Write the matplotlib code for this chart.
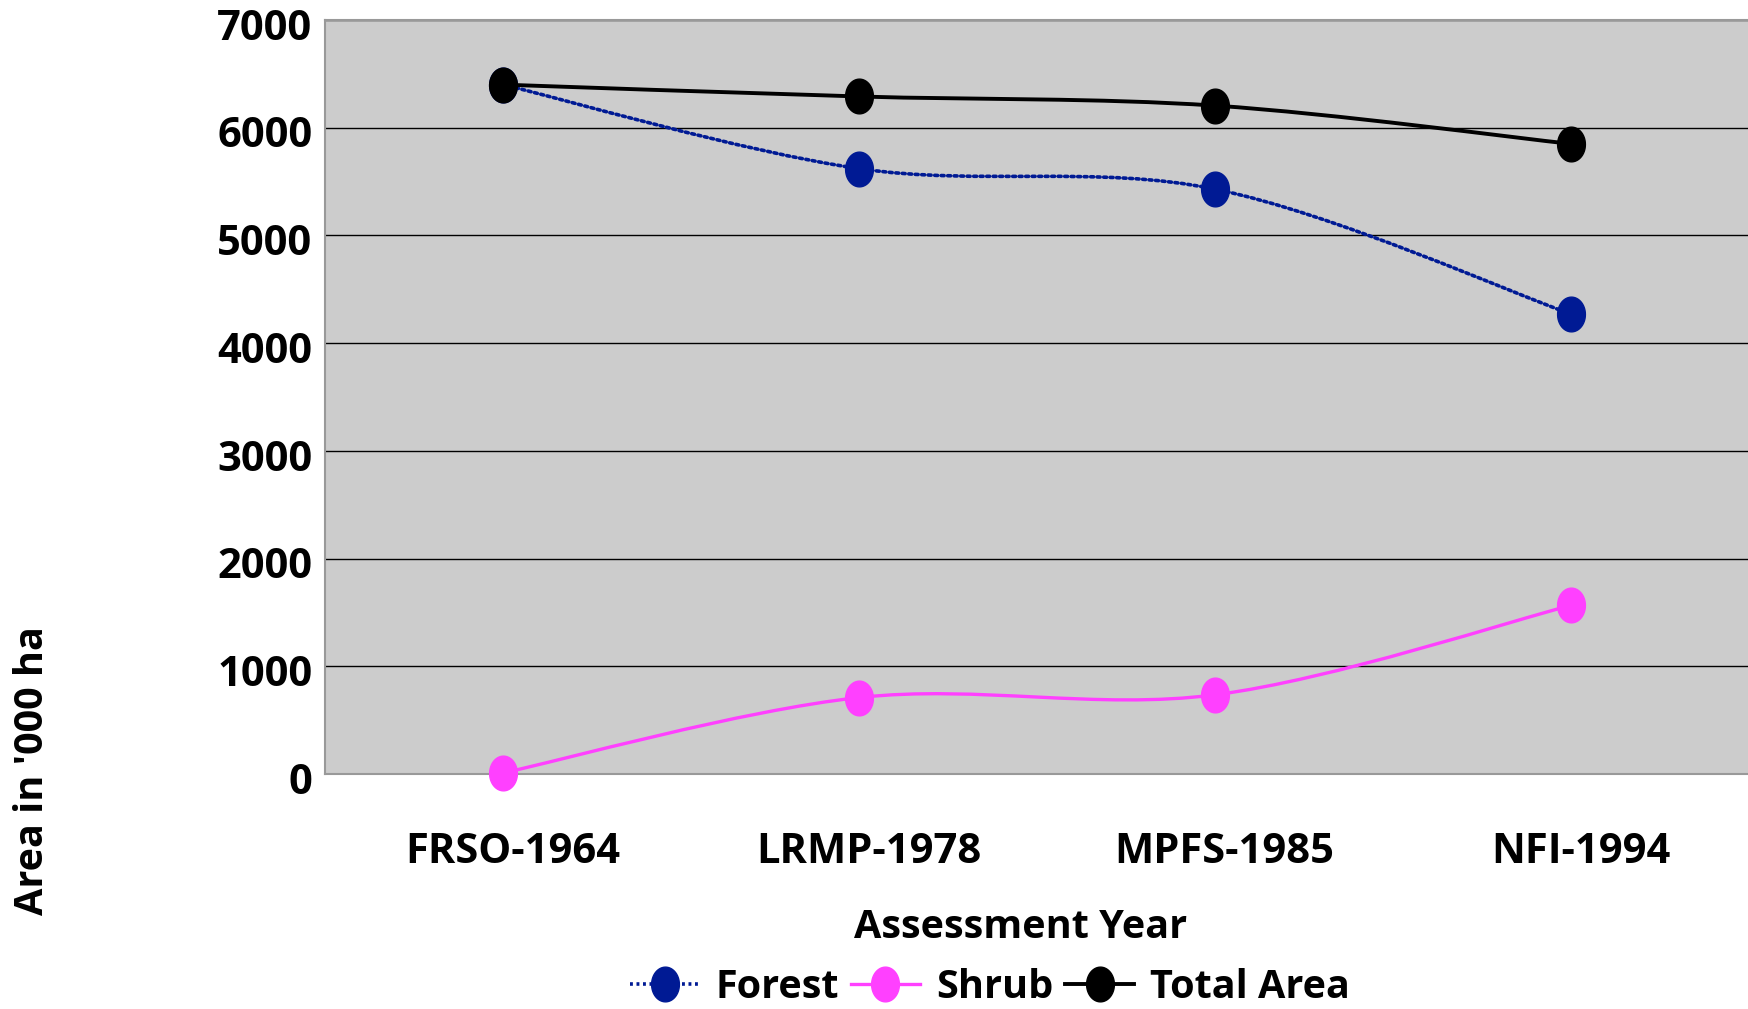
import numpy as np
import matplotlib
matplotlib.use("Agg")
import matplotlib.pyplot as plt
from matplotlib.path import Path
from matplotlib.patches import PathPatch
from matplotlib.lines import Line2D
import matplotlib.transforms as mtransforms

plt.rcParams['font.family'] = ['Open Sans', 'DejaVu Sans']
plt.rcParams['font.weight'] = 'bold'

categories = ["FRSO-1964", "LRMP-1978", "MPFS-1985", "NFI-1994"]
forest = [6400, 5620, 5430, 4270]
shrub = [10, 710, 735, 1565]
total_area = [6400, 6290, 6205, 5850]
series_names = ["Forest", "Shrub", "Total Area"]
y_ticks = [0, 1000, 2000, 3000, 4000, 5000, 6000, 7000]

FOREST_C = '#001a94'
SHRUB_C = '#ff40ff'
TOTAL_C = '#000000'
FS_TICK = 30
FS_TEXT = 28.5

fig = plt.figure(figsize=(17.49, 10.09), dpi=100)
ax = fig.add_axes([325/1749, 1 - 774/1009, 1 - 325/1749, (774 - 20)/1009])
ax.set_facecolor('#cccccc')

x = np.arange(1, len(categories) + 1)

# ellipse marker
t = np.linspace(0, 2*np.pi, 60)
ell = Path(np.column_stack([0.40*np.cos(t), 0.5*np.sin(t)]), closed=True)


def smooth_path(xs, ys):
    pts = np.column_stack([xs, ys]).astype(float)
    n = len(pts)
    verts = [pts[0]]
    codes = [Path.MOVETO]
    for i in range(n - 1):
        p0 = pts[i - 1] if i > 0 else pts[i]
        p1 = pts[i]
        p2 = pts[i + 1]
        p3 = pts[i + 2] if i + 2 < n else pts[i + 1]
        c1 = p1 + (p2 - p0) / 6.0
        c2 = p2 - (p3 - p1) / 6.0
        verts += [c1, c2, p2]
        codes += [Path.CURVE4] * 3
    return Path(verts, codes)


styles = [
    (forest, FOREST_C, (0, (0.8, 1.0)), 2.6),
    (shrub, SHRUB_C, '-', 2.4),
    (total_area, TOTAL_C, '-', 2.8),
]
handles = []
for (vals, col, ls, lw), name in zip(styles, series_names):
    patch = PathPatch(smooth_path(x, vals), fill=False, edgecolor=col,
                      linestyle=ls, linewidth=lw, transform=ax.transData,
                      zorder=3, capstyle='round')
    ax.add_patch(patch)
    ax.plot(x, vals, linestyle='none', marker=ell, markersize=25,
            color=col, markeredgecolor=col, zorder=4, clip_on=False)
    handles.append(Line2D([], [], color=col, linestyle=ls, linewidth=lw,
                          marker=ell, markersize=25, label=name))

ax.set_xlim(0.5, len(categories) + 0.5)
ax.set_ylim(0, 7000)
ax.set_yticks(y_ticks)
ax.set_yticklabels([str(v) for v in y_ticks], fontsize=FS_TICK, fontweight='bold')
ax.set_xticks(x)
ax.set_xticklabels(categories, fontsize=FS_TICK, fontweight='bold')
ax.tick_params(axis='both', length=0)
ax.tick_params(axis='y', pad=9)
ax.tick_params(axis='x', pad=42)
offset = mtransforms.ScaledTranslation(7/72, 0, fig.dpi_scale_trans)
for lab in ax.get_xticklabels():
    lab.set_transform(lab.get_transform() + offset)
yoff = mtransforms.ScaledTranslation(0, -3/72, fig.dpi_scale_trans)
for lab in ax.get_yticklabels():
    lab.set_transform(lab.get_transform() + yoff)

ax.yaxis.grid(True, color='black', linewidth=1.0)
ax.set_axisbelow(True)
for s in ['left', 'bottom', 'top']:
    ax.spines[s].set_color('#999999')
    ax.spines[s].set_linewidth(1.5)
ax.spines['right'].set_visible(False)

fig.text(1021/1749, 1 - 927/1009, "Assessment Year", ha='center', va='center',
         fontsize=FS_TEXT, fontweight='bold')
fig.text(33/1749, 1 - 771/1009, "Area in '000 ha", ha='center', va='center',
         rotation=90, fontsize=FS_TEXT, fontweight='bold')

leg = fig.legend(handles=handles, loc='center', bbox_to_anchor=(990/1749, 1 - 987/1009),
                 ncol=3, frameon=False, fontsize=FS_TEXT, handlelength=1.75,
                 handletextpad=0.4, columnspacing=0.3, borderpad=0)
for txt in leg.get_texts():
    txt.set_fontweight('bold')

fig.savefig("out.png", dpi=100)
